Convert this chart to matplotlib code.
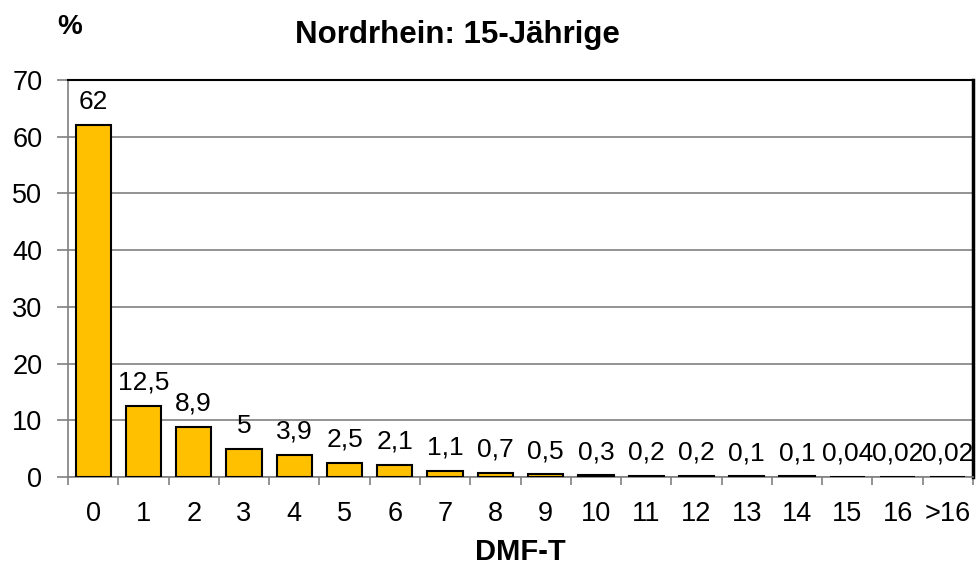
import matplotlib
matplotlib.use("Agg")
import matplotlib.pyplot as plt
import numpy as np

categories = ["0", "1", "2", "3", "4", "5", "6", "7", "8", "9", "10", "11", "12", "13", "14", "15", "16", ">16"]
values = [62, 12.5, 8.9, 5, 3.9, 2.5, 2.1, 1.1, 0.7, 0.5, 0.3, 0.2, 0.2, 0.1, 0.1, 0.04, 0.02, 0.02]
value_labels = ["62", "12,5", "8,9", "5", "3,9", "2,5", "2,1", "1,1", "0,7", "0,5", "0,3", "0,2", "0,2", "0,1", "0,1", "0,04", "0,02", "0,02"]
yticks = [0, 10, 20, 30, 40, 50, 60, 70]

plt.rcParams['font.family'] = ['Liberation Sans', 'DejaVu Sans']

fig = plt.figure(figsize=(9.76, 5.66), dpi=100)
ax = fig.add_axes([68/976, 1-477/566, (973-68)/976, (477-80)/566])

x = np.arange(len(categories))
ax.bar(x, values, width=0.7, color="#FFC000", edgecolor="black", linewidth=1.5, zorder=3)
for xi, v, lab in zip(x, values, value_labels):
    ax.annotate(lab, (xi, v), xytext=(0, 8), textcoords="offset points",
                ha="center", va="bottom", fontsize=19, zorder=4)

ax.set_xlim(-0.5, len(categories) - 0.5)
ax.set_ylim(0, 70)
ax.set_yticks(yticks)
ax.set_yticklabels([str(t) for t in yticks], fontsize=19.5)
ax.set_xticks(x)
ax.set_xticklabels(categories, fontsize=19.5)
ax.set_xticks(np.arange(-0.5, len(categories), 1), minor=True)
ax.tick_params(axis="x", which="major", length=0, pad=17)
ax.tick_params(axis="x", which="minor", length=6, color="#808080", width=1.2)
ax.tick_params(axis="y", length=8, color="#808080", width=1.2, pad=10.5)
ax.grid(axis="y", color="#808080", linewidth=1.2, zorder=0)

ax.spines["left"].set_color("#808080")
ax.spines["left"].set_linewidth(1.2)
ax.spines["bottom"].set_color("#808080")
ax.spines["bottom"].set_linewidth(1.2)
ax.spines["top"].set_color("black")
ax.spines["top"].set_linewidth(1.5)
ax.spines["right"].set_color("black")
ax.spines["right"].set_linewidth(2.5)

fig.text(457/976, 1-35/566, "Nordrhein: 15-Jährige", ha="center", va="center", fontsize=22.5, fontweight="bold")
fig.text(70/976, 1-27/566, "%", ha="center", va="center", fontsize=20, fontweight="bold")
fig.text(520/976, 1-552/566, "DMF-T", ha="center", va="center", fontsize=21, fontweight="bold")

fig.savefig("out.png", dpi=100)
